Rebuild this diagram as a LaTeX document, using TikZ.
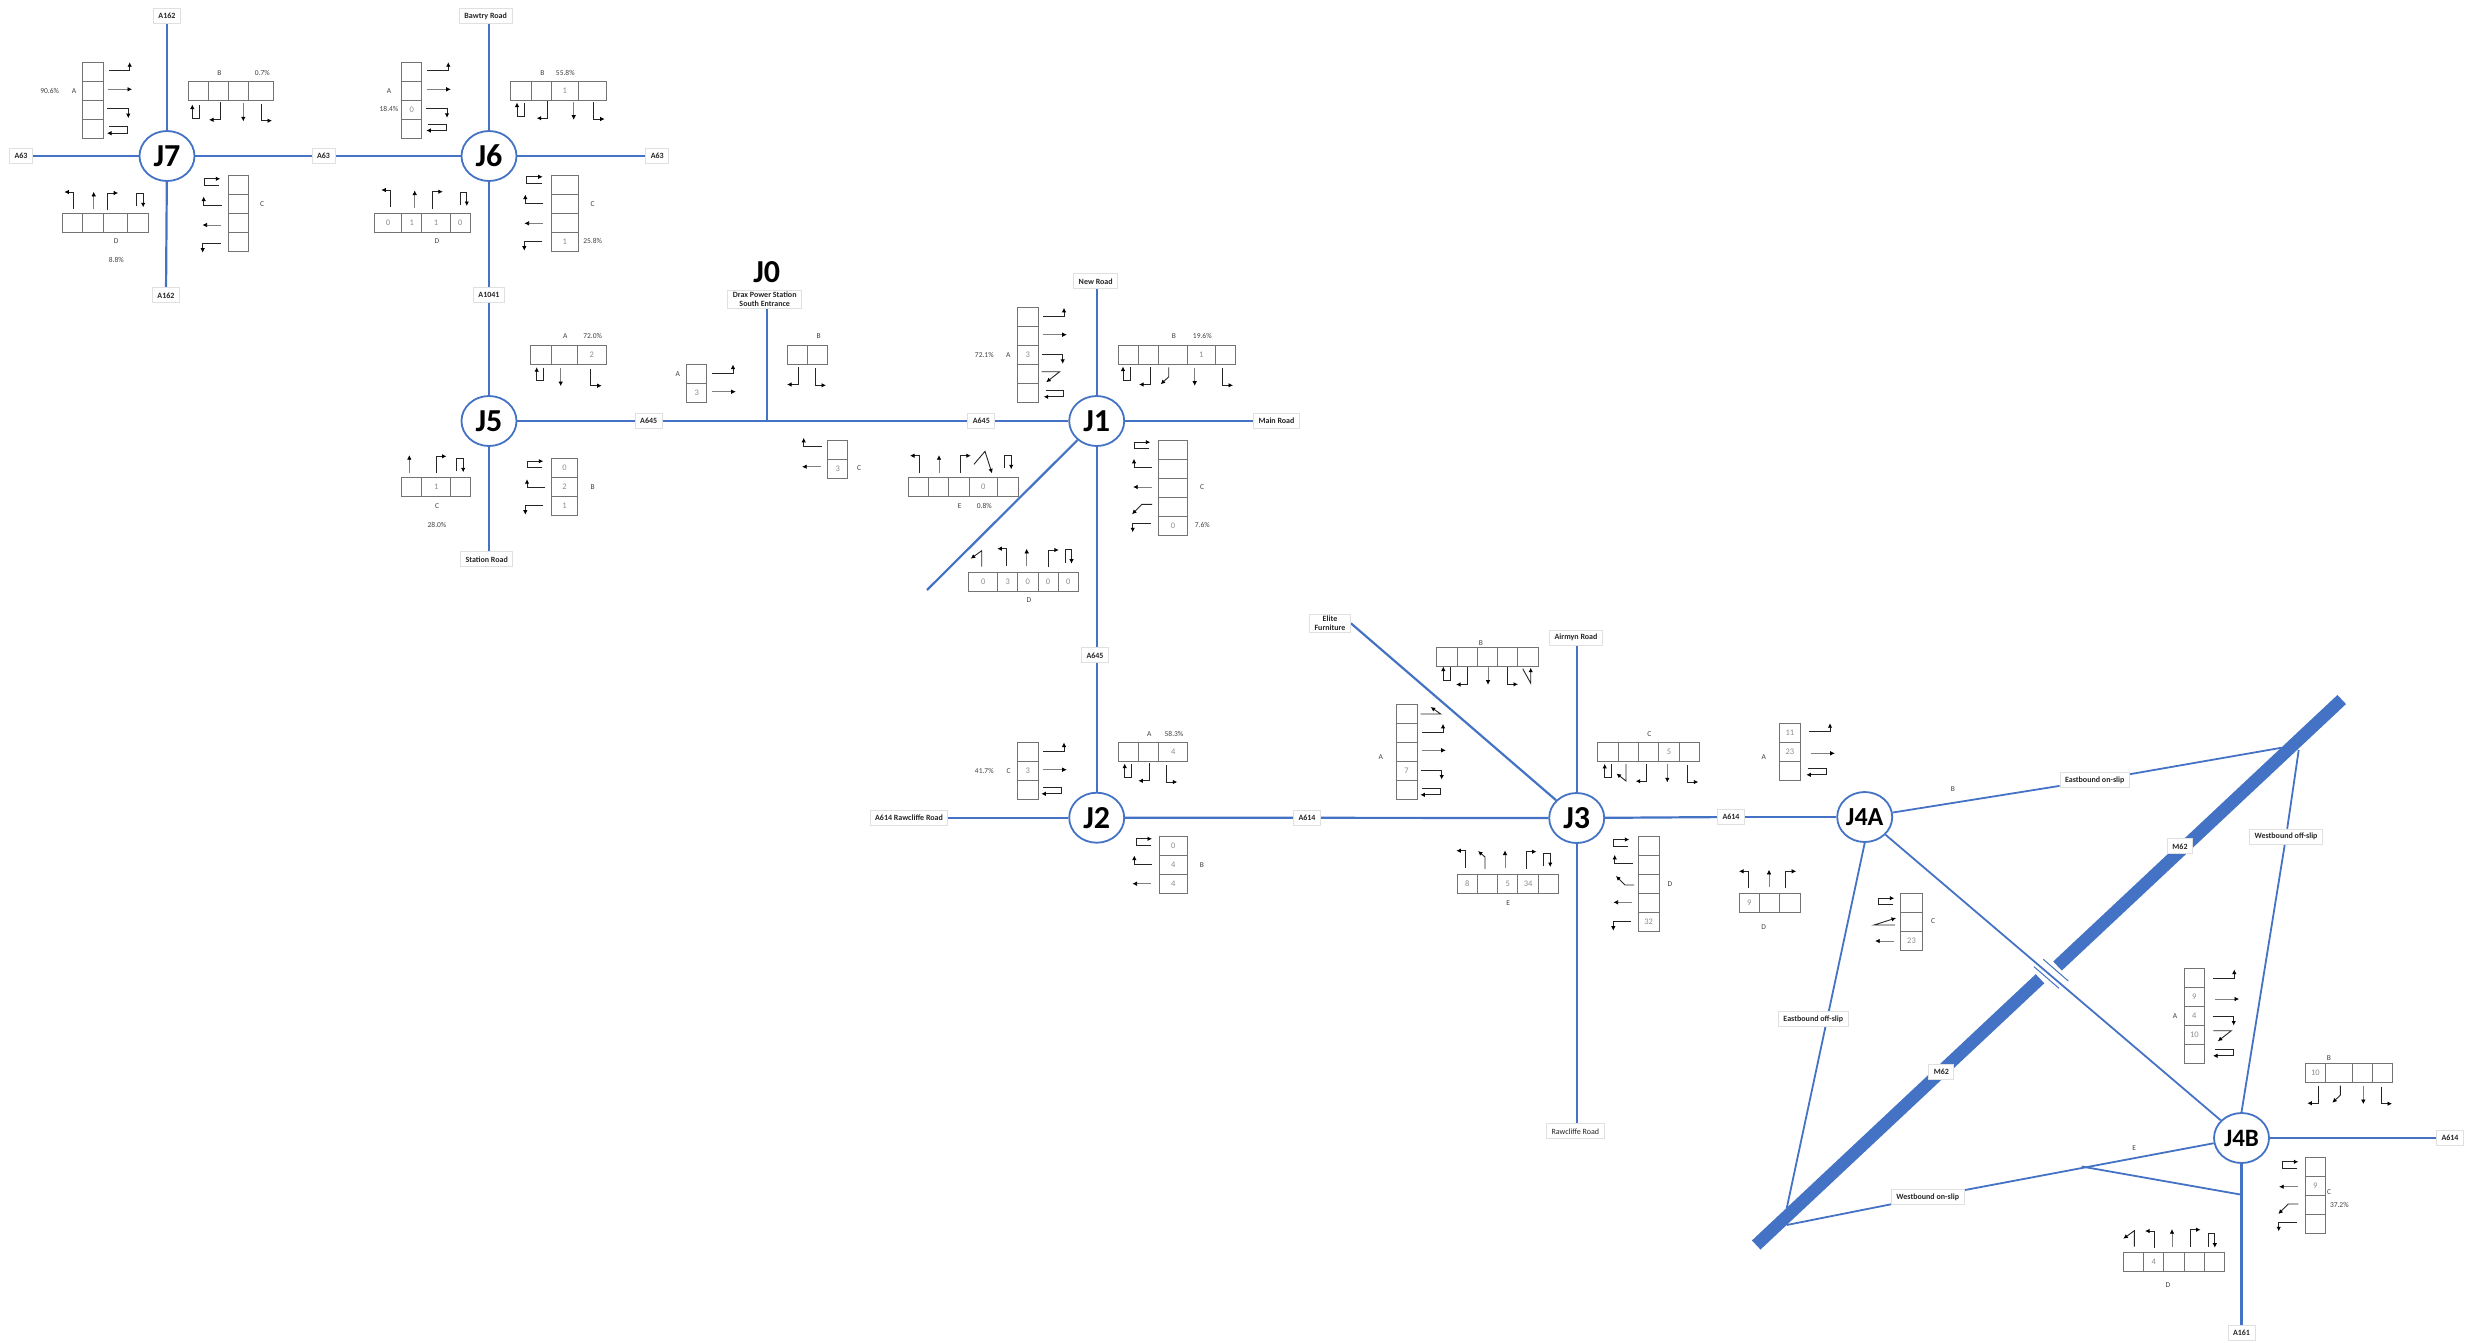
\documentclass[tikz,border=0pt]{standalone}
\usepackage{fontspec}
\setmainfont{Carlito}
\usetikzlibrary{arrows.meta,shapes.geometric,backgrounds}
\definecolor{roadblue}{HTML}{4472C4}

% small lane arrows, tail at (0,0)
\tikzset{
  rup/.pic={\draw[turnline] (0,0) -- (21,0) -- (21,-8.5);},
  rstr/.pic={\draw[thruline] (0,0) -- (24,0);},
  rdown/.pic={\draw[turnline] (0,0) -- (21,0) -- (21,9.5);},
  ruturn/.pic={\draw[turnline] (0,0) -- (18,0) -- (18,6.5) -- (-2,6.5);},
  rdiag/.pic={\draw[turnline] (0,0) -- (18,0) -- (4.5,10.5);},
  raback/.pic={\draw[turnline] (0,0) -- (20,0) -- (10,-7);},
  dut/.pic={\draw[turnline] (0,0) -- (0,13) -- (-7,13) -- (-7,-0.5);},
  dleft/.pic={\draw[turnline] (0,0) -- (0,17.5) -- (-11,17.5);},
  dstr/.pic={\draw[thruline] (0,0) -- (0,18);},
  dright/.pic={\draw[turnline] (0,0) -- (0,17) -- (11,17);},
  dbear/.pic={\draw[turnline] (0,0) -- (0,9.5) -- (-8,17);},
  dback/.pic={\draw[turnline] (0,0) -- (0,17) -- (-9.5,9.5);},
  dvturn/.pic={\draw[turnline] (0,0) -- (8,14.5) -- (8,-1);},
  luturn/.pic={\draw[turnline] (0,0) -- (-15,0) -- (-15,-6.5) -- (1,-6.5);},
  lup/.pic={\draw[turnline] (0,0) -- (-18,0) -- (-18,-8.5);},
  lstr/.pic={\draw[thruline] (0,0) -- (-18.5,0);},
  ldown/.pic={\draw[turnline] (0,0) -- (-18,0) -- (-18,9);},
  lbear/.pic={\draw[turnline] (0,0) -- (-10,0) -- (-20,10);},
  lback/.pic={\draw[turnline] (0,0) -- (-9,0) -- (-18,-9);},
  lfwd/.pic={\draw[turnline] (0,0) -- (-21,0) -- (1,-7);},
  uleft/.pic={\draw[turnline] (0,0) -- (0,-17) -- (-9,-17);},
  ustr/.pic={\draw[thruline] (0,0) -- (0,-17.5);},
  uright/.pic={\draw[turnline] (0,0) -- (0,-17) -- (10.5,-17);},
  uuturn/.pic={\draw[turnline] (0,0) -- (0,-13) -- (6.5,-13) -- (6.5,1);},
  uback/.pic={\draw[turnline] (0,0) -- (0,-16) -- (-11,-8);},
  uvback/.pic={\draw[turnline] (0,0) -- (0,-12) -- (-7,-18);},
  ukink/.pic={\draw[turnline] (0,0) -- (11,-13) -- (18,9);}
}

% name, left edge, mid height, width/text of each lane
\newcommand{\lanerow}[4]{
  \gdef\lanepos{#2}
  \foreach \w/\txt [count=\i] in {#4} {
    \node[lanecell, anchor=west, minimum width=\w pt] (#1-\i) at (\lanepos,#3) {\txt};
    \pgfmathsetmacro\nextpos{\lanepos+\w}
    \global\let\lanepos\nextpos
  }
}
% name, mid line, top edge, width, height/text of each lane
\newcommand{\lanestack}[5]{
  \gdef\lanepos{#3}
  \foreach \h/\txt [count=\i] in {#5} {
    \node[lanecell, anchor=north, minimum width=#4pt, minimum height=\h pt] (#1-\i) at (#2,\lanepos) {\txt};
    \pgfmathsetmacro\nextpos{\lanepos+\h}
    \global\let\lanepos\nextpos
  }
}
\newcommand{\turns}[1]{
  \foreach \kind/\x/\y in {#1} \pic at (\x,\y) {\kind};
}
\newcommand{\notes}[2]{
  \foreach \x/\y/\txt [count=\i] in {#2} \node[lanenote] (#1-\i) at (\x,\y) {\txt};
}

\begin{document}
\begin{tikzpicture}[x=1pt,y=-1pt]
    \tikzstyle{junction} = [ellipse, draw=roadblue, line width=1.8pt, fill=white, minimum width=55pt, minimum height=50pt, inner sep=0pt, font=\fontsize{32}{32}\selectfont\bfseries]
    \tikzstyle{roadlabel} = [rectangle, draw=black!12, line width=0.9pt, fill=white, minimum height=15pt, inner xsep=5pt, inner ysep=2pt, align=center, font=\fontsize{8}{9}\selectfont\bfseries, text=black!85]
    \tikzstyle{road} = [draw=roadblue, line width=2.2pt]
    \tikzstyle{sliproad} = [draw=roadblue, line width=1.8pt]
    \tikzstyle{lanecell} = [rectangle, draw=black!55, line width=0.9pt, inner sep=0pt, outer sep=0pt, minimum height=19pt, font=\fontsize{8.5}{9}\selectfont, text=black!45]
    \tikzstyle{lanenote} = [inner sep=0pt, font=\fontsize{7.5}{9}\selectfont, text=black!75]
    \tikzstyle{turnline} = [draw=black!85, line width=0.9pt, -{Latex[length=4.5pt,width=4.5pt,color=black]}]
    \tikzstyle{thruline} = [draw=black!50, line width=0.6pt, -{Latex[length=4.5pt,width=4.5pt,color=black]}]

    \useasboundingbox (0,0) rectangle (2468,1342);

    % junctions
    \node[junction] (j7) at (167,156) {J7};
    \node[junction] (j6) at (489,156) {J6};
    \node[junction] (j5) at (489,421) {J5};
    \node[junction] (j1) at (1096.7,421) {J1};
    \node[junction] (j2) at (1096.7,817.7) {J2};
    \node[junction] (j3) at (1576.7,818) {J3};
    \node[junction, font=\fontsize{26}{26}\selectfont\bfseries] (j4a) at (1864.7,817) {J4A};
    \node[junction, font=\fontsize{25}{25}\selectfont\bfseries] (j4b) at (2241.5,1138) {J4B};
    \node[font=\fontsize{32}{32}\selectfont\bfseries] (j0) at (766.7,271.7) {J0};

    % road names
    \node[roadlabel] (a162n) at (167,16) {A162};
    \node[roadlabel] (a162s) at (166,295.3) {A162};
    \node[roadlabel] (a63w) at (21,156) {A63};
    \node[roadlabel] (a63m) at (323.5,156) {A63};
    \node[roadlabel] (a63e) at (657.3,156) {A63};
    \node[roadlabel] (bawtry) at (485.7,16) {Bawtry Road};
    \node[roadlabel] (a1041) at (489,295) {A1041};
    \node[roadlabel] (station) at (486.7,559.3) {Station Road};
    \node[roadlabel] (a645w) at (648.7,421) {A645};
    \node[roadlabel] (a645e) at (981.3,421) {A645};
    \node[roadlabel] (a645s) at (1095,655.3) {A645};
    \node[roadlabel] (drax) at (764.7,299.3) {Drax Power Station\\South Entrance};
    \node[roadlabel] (newroad) at (1095.7,281.3) {New Road};
    \node[roadlabel] (mainroad) at (1276.5,421) {Main Road};
    \node[roadlabel] (rawcliffew) at (909,817.7) {A614 Rawcliffe Road};
    \node[roadlabel] (a614w) at (1307,817.8) {A614};
    \node[roadlabel] (a614m) at (1731,817) {A614};
    \node[roadlabel] (a614e) at (2450,1138) {A614};
    \node[roadlabel] (elite) at (1330,623.3) {Elite\\Furniture};
    \node[roadlabel] (airmyn) at (1576,637.7) {Airmyn Road};
    \node[roadlabel, font=\fontsize{8}{9}\selectfont] (rawcliffes) at (1575.3,1131.3) {Rawcliffe Road};
    \node[roadlabel] (a161) at (2241.5,1332.7) {A161};
    \node[roadlabel] (eon) at (2094.7,780.3) {Eastbound on-slip};
    \node[roadlabel] (eoff) at (1813.3,1019.3) {Eastbound off-slip};
    \node[roadlabel] (won) at (1927.7,1197) {Westbound on-slip};
    \node[roadlabel] (woff) at (2286,836.7) {Westbound off-slip};
    \node[roadlabel] (m62n) at (2180,846.3) {M62};
    \node[roadlabel] (m62s) at (1941.3,1072) {M62};

    % road ends
    \coordinate (j0tee) at (766.7,421);
    \coordinate (j1end) at (927,590);
    \coordinate (m62a) at (1756.2,1245);
    \coordinate (m62b) at (2040,978.7);
    \coordinate (m62c) at (2057.5,966);
    \coordinate (m62d) at (2341.7,699.5);
    \coordinate (eonend) at (2281.7,747.7);
    \coordinate (woffend) at (2298.7,750);
    \coordinate (eoffend) at (1786.7,1208.3);
    \coordinate (wonend) at (1786.7,1225);
    \coordinate (splita) at (2081.7,1166.5);
    \coordinate (splitb) at (2241.5,1194.7);
    \coordinate (para1a) at (2043.3,959.3);
    \coordinate (para1b) at (2068.3,981);
    \coordinate (para2a) at (2034,966.7);
    \coordinate (para2b) at (2059,988.3);

    \begin{scope}[on background layer]
        \draw[draw=roadblue, line width=12.5pt] (m62a) -- (m62b);
        \draw[draw=roadblue, line width=12.5pt] (m62c) -- (m62d);
        \draw[road] (j7) -- (a162n);
        \draw[road] (j7) -- (a162s);
        \draw[road] (j7) -- (a63w);
        \draw[road] (j7) -- (a63m);
        \draw[road] (a63m) -- (j6);
        \draw[road] (j6) -- (bawtry.south -| j6);
        \draw[road] (j6) -- (a63e);
        \draw[road] (j6) -- (a1041);
        \draw[road] (a1041) -- (j5);
        \draw[road] (j5) -- (station.north -| j5);
        \draw[road] (j5) -- (a645w);
        \draw[road] (a645w) -- (a645e);
        \draw[road] (a645e) -- (j1);
        \draw[road] (drax.south -| j0tee) -- (j0tee);
        \draw[road] (j1) -- (newroad.south -| j1);
        \draw[road] (j1) -- (mainroad);
        \draw[road] (j1) -- (j1end);
        \draw[road] (j1) -- (a645s.north -| j1);
        \draw[road] (a645s.south -| j1) -- (j2);
        \draw[road] (j2) -- (rawcliffew);
        \draw[road] (j2) -- (a614w);
        \draw[road] (a614w) -- (j3);
        \draw[road] (j3) -- (airmyn.south -| j3);
        \draw[road] (j3) -- (rawcliffes.north -| j3);
        \draw[road] (j3) -- (a614m);
        \draw[road] (a614m) -- (j4a);
        \draw[road] (j3) -- (elite.east);
        \draw[sliproad] (j4a) -- (eon);
        \draw[sliproad] (eon) -- (eonend);
        \draw[sliproad] (j4a.south) -- (eoffend);
        \draw[sliproad] (j4a) -- (j4b);
        \draw[sliproad] (woffend) -- (woff);
        \draw[sliproad] (woff) -- (j4b.north);
        \draw[sliproad] (wonend) -- (won);
        \draw[sliproad] (won) -- (j4b);
        \draw[sliproad] (splita) -- (splitb);
        \draw[road] (j4b) -- (a614e);
        \draw[road] (j4b) -- (a161);
        \draw[draw=roadblue, line width=1pt] (para1a) -- (para1b);
        \draw[draw=roadblue, line width=1pt] (para2a) -- (para2b);
    \end{scope}

    % J7
    \lanestack{j7a}{93}{62.3}{20.7}{19/,19/,19/,19/}
    \lanerow{j7b}{188.3}{90.8}{20/,20/,20.3/,25/}
    \lanestack{j7c}{238.7}{175.3}{20}{19/,19/,19/,19/}
    \lanerow{j7d}{62.3}{222.8}{20/,21/,24/,20.7/}
    \notes{j7t}{49.7/90.7/90.6\%, 74/90.7/A, 219.3/72.7/B, 262.3/72.7/0.7\%, 262/204.3/C, 116.3/241.3/D, 116.3/260.3/8.8\%}
    \turns{rup/108.7/70.7, rstr/108/89.3, rdown/107.3/108.7, ruturn/109/126.7,
           dut/199.3/105, dleft/220/102.3, dstr/243.3/103.3, dright/261/103.7,
           luturn/219.3/185.3, lup/221.7/205, lstr/221/225, ldown/220.7/243.7,
           uleft/73.3/209, ustr/93.7/209.3, uright/107.7/210, uuturn/136.7/206.3}

    % J6
    \lanestack{j6a}{411.7}{62.3}{20}{19/,19/,19/0,19/}
    \lanerow{j6b}{510.7}{90.8}{20.3/,20.7/,26.3/1,28/}
    \lanestack{j6c}{564.7}{175.3}{26.7}{19/,19/,19/,19/1}
    \lanerow{j6d}{374.3}{222.8}{27.3/0,20.3/1,28.3/1,20.3/0}
    \notes{j6t}{389/90.7/A, 389/109.3/18.4\%, 542.3/72.7/B, 565.3/72.7/55.8\%, 592.7/204.3/C, 592.7/241.3/25.8\%, 437/241.3/D}
    \turns{rup/427.3/70.7, rstr/426.7/89.3, rdown/426/108.3, ruturn/428.3/124,
           dut/524/103, dleft/547.7/100.7, dstr/573.7/101.7, dright/593.7/102,
           luturn/541.7/183.3, lup/543.3/203, lstr/543/223.3, ldown/542.3/241.7,
           uleft/390.3/207, ustr/414.7/208, uright/432.3/208.7, uuturn/460.3/205}

    % J5
    \lanerow{j5a}{530.7}{355}{20.7/,26.3/,28.3/2}
    \lanerow{j5c}{401.7}{487}{20/,29/1,20/}
    \lanestack{j5b}{564.5}{458.7}{26.3}{19/0,19/2,19/1}
    \notes{j5t}{565.3/336.3/A, 592.7/336.3/72.0\%, 437/506.3/C, 437/525.3/28.0\%, 592.7/487.3/B}
    \turns{dut/543.7/367.7, dstr/560.7/368, dright/590.7/368.7,
           ustr/409.3/472.7, uright/436/473.3, uuturn/456.7/471.3,
           luturn/542.3/467.7, lup/545/487.7, ldown/543.3/505.7}

    % J0
    \lanestack{j0a}{696.7}{364.3}{20}{19/,19/3}
    \lanerow{j0b}{787.3}{355}{20.3/,20.3/}
    \lanestack{j0c}{837.8}{440}{20}{19/,19/3}
    \notes{j0t}{677.7/374.3/A, 818.7/336.3/B, 859/468.3/C}
    \turns{rup/712/373, rstr/711.7/391.7, dleft/798/367, dright/815/368.3, lup/821.7/446.3, lstr/820.7/466.7}

    % J1
    \lanestack{j1a}{1027.8}{307.7}{20.3}{19/,19/,19/3,19/,19/}
    \lanerow{j1b}{1118.7}{355}{20/,20/,28.7/,27.7/1,20/}
    \lanestack{j1c}{1173}{440}{28.7}{19/,19/,19/,19/,19/0}
    \lanerow{j1e}{908.7}{487}{20/,20/,20.3/,28.7/0,20.3/}
    \lanerow{j1d}{968.7}{581.7}{29/0,20/3,20.3/0,20/0,20.7/0}
    \notes{j1t}{984.3/355.3/72.1\%, 1008.3/355.3/A, 1174/336.3/B, 1202.3/336.3/19.6\%, 1202/487.3/C, 1202.3/525.3/7.6\%, 959.7/506.3/E, 984.3/506.3/0.8\%, 1029/600.3/D}
    \turns{rup/1043/316.3, rstr/1042.7/334.7, rdown/1041.7/354.3, rdiag/1041.7/371.7, ruturn/1045.7/390.3,
           dut/1130/367, dleft/1150/367, dbear/1168.7/367.3, dstr/1194.7/367.7, dright/1222/368.3,
           luturn/1149.3/448.7, lup/1152/467.3, lstr/1151.7/487, lbear/1152/504.3, ldown/1150.7/523.3,
           uleft/919/472.7, ustr/939/472.7, uright/960.3/472.7, ukink/974/464.3, uuturn/1004.7/468.3,
           uback/981.7/566.7, uleft/1006.3/565.7, ustr/1026.7/566.3, uright/1048.3/567, uuturn/1065/562.7}

    % J2
    \lanestack{j2c}{1027.8}{742.3}{20.3}{19/,19/3,19/}
    \lanerow{j2a}{1118.3}{751.7}{20.3/,20.3/,28.7/4}
    \lanestack{j2b}{1173.3}{836.7}{28.7}{19/0,19/4,19/4}
    \notes{j2t}{984.3/770.7/41.7\%, 1008.7/770.7/C, 1149.3/733.7/A, 1174/733.7/58.3\%, 1202/865.3/B}
    \turns{rup/1043/751, rstr/1042.7/769.7, ruturn/1043.3/787.3,
           dut/1131.7/764, dleft/1149.3/763.3, dright/1166.3/765,
           luturn/1151/845.3, lup/1152.3/864, lstr/1151/883.7}

    % J3
    \lanestack{j3a}{1406.5}{704.7}{21}{19/,19/,19/,19/7,19/}
    \lanerow{j3b}{1436.7}{657}{20.3/,20.3/,20.3/,20.3/,20.3/}
    \lanerow{j3c}{1597.7}{752}{20.4/,20.4/,20.4/,20.4/5,20.4/}
    \lanerow{j3e}{1457}{884}{20.3/8,20.3/,20.3/5,20.3/34,20.3/}
    \lanestack{j3d}{1648.7}{836.7}{20.7}{19/,19/,19/,19/,19/32}
    \notes{j3t}{1380.7/757.3/A, 1481/643.3/B, 1649.3/733.7/C, 1508.3/903.3/E, 1670/884.3/D}
    \turns{raback/1420.7/714, rup/1422/732.3, rstr/1421.7/750.3, rdown/1420.7/770, ruturn/1422.3/788.3,
           dut/1450.3/667, dleft/1467/667, dstr/1488/666.7, dright/1507/667.3, dvturn/1522.7/668.7,
           dut/1611.7/764.3, dback/1626/764, dleft/1646.7/763.7, dstr/1667.3/764.3, dright/1687.3/765,
           uleft/1465.3/867.7, uvback/1485/869, ustr/1505/868, uright/1526/868.7, uuturn/1543.7/866,
           luturn/1628.3/846, lup/1632.7/863.3, lback/1634/885, lstr/1632/902.3, ldown/1631.3/921.7}

    % J4A
    \lanestack{j4aa}{1789.8}{723.3}{21}{19/11,19/23,19/}
    \lanerow{j4ad}{1739}{902.7}{20.3/9,20.3/,20.7/}
    \lanestack{j4ac}{1911.5}{893.3}{21.7}{19/,19/,19/23}
    \notes{j4at}{1763.7/757.3/A, 1763.7/927.3/D, 1933/921.3/C, 1953/789.3/B}
    \turns{rup/1809/731.7, rstr/1810.7/753.3, ruturn/1808.3/768.3,
           uleft/1748/888.3, ustr/1769/887.3, uright/1785.7/888.3,
           luturn/1893.3/904.7, lfwd/1895/925, lstr/1893.7/941}

    % J4B
    \lanestack{j4ba}{2194.3}{968.7}{20}{19/,19/9,19/4,19/10,19/}
    \lanerow{j4bb}{2305.3}{1073}{20/10,27/,20/,20/}
    \lanestack{j4bc}{2315.3}{1157.7}{20}{19/,19/9,19/,19/}
    \lanerow{j4bd}{2123.3}{1261.7}{20.3/,20.3/4,20.3/,20.3/,20.3/}
    \notes{j4bt}{2175/1016.3/A, 2329/1058.3/B, 2329/1191.7/C, 2339.3/1205.3/37.2\%, 2168/1285.3/D, 2134.3/1148.3/E}
    \turns{rup/2213.3/978, rstr/2215/999, rdown/2212.7/1016, rdiag/2213.3/1030.7, ruturn/2215/1049.3,
           dleft/2318.3/1085.7, dbear/2340.3/1085.7, dstr/2363.3/1086, dright/2381/1086.7,
           luturn/2297.3/1168.3, lstr/2297.7/1186.7, lbear/2298.3/1204, ldown/2296.7/1222.3,
           uback/2134.3/1246.7, uleft/2154/1248, ustr/2172/1246.7, uright/2190/1246.7, uuturn/2208.3/1246.7}
\end{tikzpicture}
\end{document}
